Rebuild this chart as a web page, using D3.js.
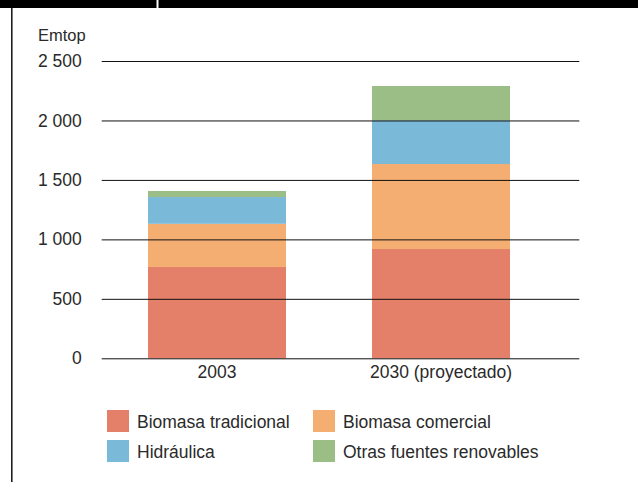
<!DOCTYPE html>
<html>
<head>
<meta charset="utf-8">
<script src="https://cdn.jsdelivr.net/npm/d3@7"></script>
<style>
  body { margin: 0; background: #fff; }
  #chart { width: 638px; height: 482px; }
  text { font-family: "Liberation Sans", Arial, sans-serif; fill: #2a2a2a; }
</style>
</head>
<body>
<div id="chart"></div>
<script>

// data (Emtop)
const years = ["2003", "2030 (proyectado)"];
const seriesNames = ["Biomasa tradicional", "Biomasa comercial", "Hidráulica", "Otras fuentes renovables"];
const tradicional = [768, 919];
const comercial = [363, 715];
const hidraulica = [225, 367];
const otras = [51, 289];
const yTicks = [0, 500, 1000, 1500, 2000, 2500];
const colors = ["#e4806a", "#f4ae72", "#7ab9d8", "#9bbe87"];

const width = 638;
const height = 482;
const fontSize = 17.5;

const svg = d3.select("#chart")
    .append("svg")
    .attr("width", width)
    .attr("height", height);

/*
FRAME: black band on top, thin line on the left
*/
svg.append("rect")
    .attr("x", 0).attr("y", 0)
    .attr("width", width).attr("height", 8)
    .attr("fill", "#000");

svg.append("rect")
    .attr("x", 156.5).attr("y", 0)
    .attr("width", 2).attr("height", 8)
    .attr("fill", "#fff");

svg.append("line")
    .attr("x1", 11.8).attr("x2", 11.8)
    .attr("y1", 8).attr("y2", height)
    .attr("stroke", "#111")
    .attr("stroke-width", 1.5);

/*
SCALES
*/
const table = years.map(function(y, i) {
    return {
        year: y,
        "Biomasa tradicional": tradicional[i],
        "Biomasa comercial": comercial[i],
        "Hidráulica": hidraulica[i],
        "Otras fuentes renovables": otras[i]
    };
});

const stacked = d3.stack().keys(seriesNames)(table);

const xScale = d3.scaleBand()
    .domain(years)
    .range([105, 553])
    .paddingInner(0.384)
    .paddingOuter(0.192);

const yScale = d3.scaleLinear()
    .domain([0, 2500])
    .range([358.3, 61]);

const colorScale = d3.scaleOrdinal()
    .domain(seriesNames)
    .range(colors);

const fmt = d3.formatLocale({decimal: ",", thousands: " ", grouping: [3], currency: ["", ""]}).format(",");

/*
BARS
*/
svg.append("g")
    .selectAll("g")
    .data(stacked)
    .enter()
    .append("g")
        .attr("fill", function(d) { return colorScale(d.key); })
    .selectAll("rect")
    .data(function(d) { return d; })
    .enter()
    .append("rect")
        .attr("x", function(d) { return xScale(d.data.year); })
        .attr("y", function(d) { return yScale(d[1]); })
        .attr("width", xScale.bandwidth())
        .attr("height", function(d) { return yScale(d[0]) - yScale(d[1]); });

/*
AXES (gridlines drawn over the bars)
*/
const plotLeft = 101.7, plotRight = 579.3;

const yAxis = svg.append("g")
    .attr("transform", `translate(${plotLeft},0)`)
    .call(d3.axisLeft(yScale)
        .tickValues(yTicks)
        .tickFormat(fmt)
        .tickSizeInner(-(plotRight - plotLeft))
        .tickSizeOuter(0)
        .tickPadding(20));

yAxis.select(".domain").remove();
yAxis.selectAll(".tick line").attr("stroke", "#111").attr("stroke-width", 1);
yAxis.selectAll(".tick text")
    .attr("font-size", fontSize)
    .attr("font-family", "Liberation Sans, Arial, sans-serif")
    .attr("fill", "#2a2a2a");

const xAxis = svg.append("g")
    .attr("transform", `translate(0,358.3)`)
    .call(d3.axisBottom(xScale).tickSize(0).tickPadding(7.2));

xAxis.select(".domain").remove();
xAxis.selectAll(".tick text")
    .attr("font-size", fontSize)
    .attr("font-family", "Liberation Sans, Arial, sans-serif")
    .attr("fill", "#2a2a2a");

// unit label
svg.append("text")
    .attr("x", 38)
    .attr("y", 40.7)
    .attr("font-size", 16.5)
    .text("Emtop");

/*
LEGEND
*/
const legendX = [107, 313];
const legendY = [410, 440];

const legend = svg.append("g")
    .selectAll("g")
    .data(seriesNames)
    .enter()
    .append("g")
        .attr("transform", function(d, i) {
            return `translate(${legendX[i % 2]},${legendY[Math.floor(i / 2)]})`;
        });

legend.append("rect")
    .attr("width", 22)
    .attr("height", 22)
    .attr("fill", function(d) { return colorScale(d); });

legend.append("text")
    .attr("x", 30)
    .attr("y", 18.3)
    .attr("font-size", fontSize)
    .text(function(d) { return d; });

</script>
</body>
</html>
